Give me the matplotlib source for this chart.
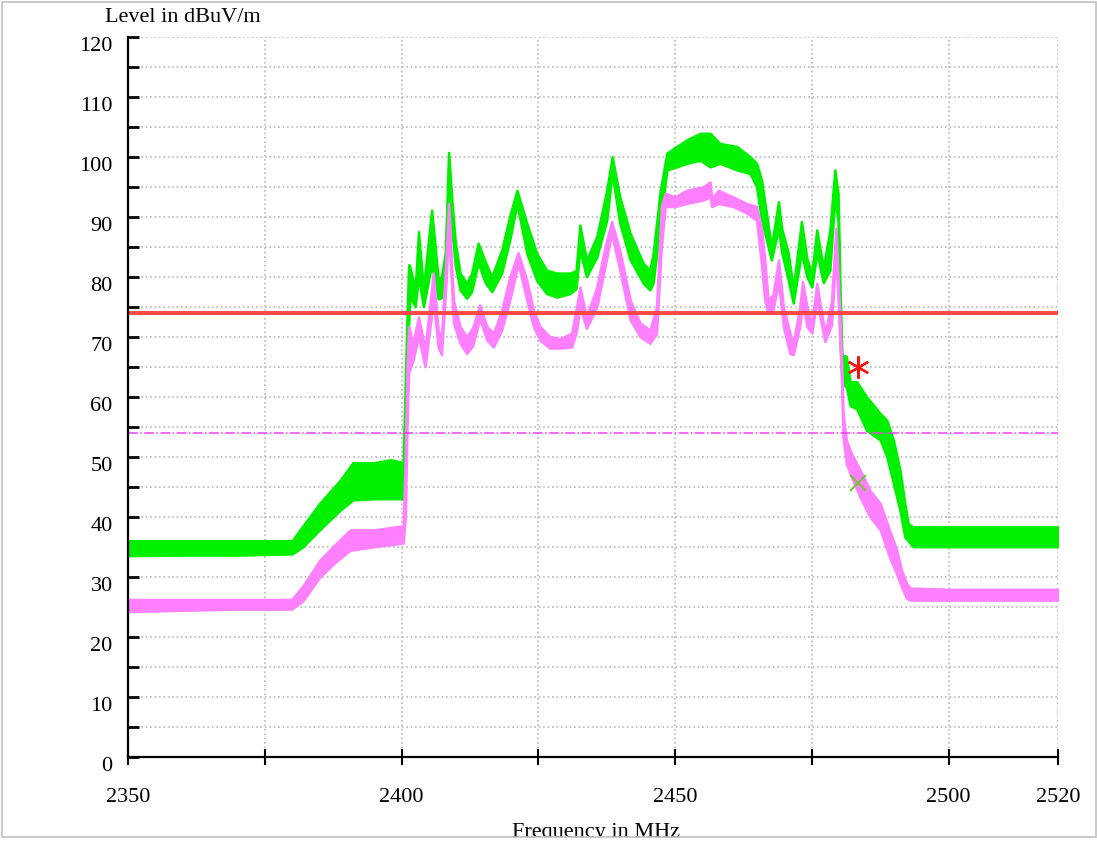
import matplotlib
matplotlib.use("Agg")
import matplotlib.pyplot as plt
from matplotlib.ticker import MultipleLocator, FixedLocator
from matplotlib.patches import Rectangle

# ---------------------------------------------------------------------------
# Data (frequency in MHz, level in dBuV/m).
# Each trace is a noisy band, kept as lower / upper envelope.
# ---------------------------------------------------------------------------
peak_freq = [2350.0, 2360.0, 2370.0, 2380.0, 2382.0, 2385.0, 2388.8, 2391.1,
             2395.0, 2398.0, 2400.3, 2400.9, 2401.3, 2401.5, 2402.5, 2403.1,
             2404.0, 2405.5, 2406.7, 2407.3, 2408.0, 2408.6, 2409.2, 2409.8,
             2410.7, 2411.9, 2412.8, 2414.0, 2415.3, 2416.5, 2418.3, 2419.8,
             2421.1, 2422.9, 2424.7, 2426.5, 2428.4, 2430.8, 2431.9, 2432.6,
             2433.8, 2435.7, 2437.5, 2438.5, 2439.9, 2441.8, 2444.2, 2445.4,
             2446.0, 2447.3, 2448.5, 2450.3, 2452.1, 2454.6, 2456.4, 2458.2,
             2461.3, 2463.7, 2464.9, 2465.8, 2466.7, 2467.6, 2468.9, 2469.5,
             2470.7, 2471.6, 2473.1, 2474.1, 2475.0, 2475.9, 2477.1, 2478.3,
             2479.2, 2479.8, 2480.1, 2480.5, 2481.3, 2482.0, 2483.2, 2485.0,
             2487.5, 2488.7, 2489.9, 2491.1, 2492.0, 2492.6, 2493.5, 2500.0,
             2510.0, 2520.0]
peak_lo = [33.5, 33.6, 33.6, 33.8, 35.0, 37.8, 41.1, 42.8,
           43.0, 43.0, 43.0, 55.0, 72.0, 76.7, 75.0, 80.0,
           75.0, 82.0, 76.3, 76.5, 80.0, 95.0, 88.0, 82.0,
           77.8, 76.4, 77.5, 82.3, 79.0, 77.5, 80.6, 86.2,
           92.2, 83.9, 79.4, 77.2, 76.6, 77.2, 78.0, 84.4,
           80.0, 83.3, 89.4, 97.2, 88.9, 82.8, 78.9, 77.8,
           79.0, 88.9, 97.8, 98.3, 98.9, 99.4, 98.3, 98.9,
           97.8, 97.2, 95.0, 89.4, 86.1, 82.8, 88.0, 84.0,
           79.4, 75.6, 84.0, 80.0, 78.3, 84.0, 79.0, 81.1,
           93.0, 89.4, 70.0, 62.0, 61.7, 58.5, 58.0, 54.4,
           52.8, 50.0, 45.6, 41.1, 36.6, 36.0, 35.0, 35.0,
           35.0, 35.0]
peak_hi = [36.0, 36.0, 36.0, 36.0, 38.5, 42.2, 46.1, 49.0,
           49.0, 49.5, 49.0, 70.0, 82.0, 81.7, 78.0, 87.5,
           78.0, 91.1, 79.7, 80.0, 84.0, 100.7, 92.8, 86.0,
           80.6, 78.9, 80.5, 85.6, 82.5, 80.0, 84.4, 90.2,
           94.4, 88.9, 83.9, 81.1, 80.6, 80.6, 81.0, 88.6,
           82.8, 86.7, 94.4, 100.0, 93.3, 87.2, 82.2, 81.1,
           84.0, 94.4, 100.6, 101.7, 102.8, 103.9, 103.9, 102.2,
           101.7, 100.0, 98.9, 96.1, 90.6, 85.0, 92.5, 88.0,
           83.9, 78.0, 89.2, 83.0, 80.5, 87.8, 81.5, 87.8,
           97.8, 93.9, 80.0, 67.0, 66.7, 62.5, 62.5, 60.0,
           57.2, 56.1, 52.8, 47.8, 42.2, 38.9, 38.3, 38.3,
           38.3, 38.3]

avg_freq = [2350.0, 2360.0, 2370.0, 2379.9, 2382.0, 2385.1, 2388.0, 2390.6,
            2395.0, 2400.3, 2400.7, 2401.0, 2401.3, 2402.1, 2403.1, 2404.3,
            2405.8, 2406.7, 2407.3, 2408.2, 2408.6, 2409.5, 2410.7, 2411.9,
            2413.0, 2414.3, 2415.6, 2416.8, 2418.3, 2419.8, 2421.3, 2422.9,
            2424.1, 2425.3, 2427.1, 2429.0, 2431.1, 2432.0, 2432.6, 2433.8,
            2435.7, 2437.2, 2438.4, 2439.9, 2441.8, 2443.6, 2445.4, 2446.6,
            2447.5, 2448.2, 2450.0, 2452.1, 2455.2, 2456.4, 2456.7, 2457.9,
            2460.6, 2463.1, 2464.9, 2465.8, 2466.4, 2467.0, 2467.9, 2468.9,
            2469.8, 2471.0, 2471.6, 2472.8, 2473.3, 2474.1, 2475.0, 2475.9,
            2477.4, 2478.6, 2479.4, 2480.1, 2480.4, 2480.7, 2481.3, 2482.2,
            2483.8, 2485.6, 2487.5, 2489.3, 2490.5, 2491.4, 2492.3, 2493.0,
            2500.0, 2510.0, 2520.0]
avg_lo = [24.2, 24.4, 24.6, 24.6, 26.0, 30.0, 32.5, 34.4,
          35.0, 35.6, 40.0, 55.0, 64.0, 66.1, 70.0, 65.0,
          76.0, 68.3, 67.0, 80.0, 88.0, 72.3, 68.9, 67.2,
          68.5, 73.0, 69.4, 68.3, 71.1, 76.1, 82.2, 76.1,
          71.7, 69.4, 68.1, 68.1, 68.3, 71.0, 75.0, 71.4,
          75.0, 81.7, 87.2, 81.1, 72.8, 70.0, 68.9, 70.5,
          85.0, 91.7, 91.7, 92.2, 92.8, 93.3, 91.7, 92.2,
          91.7, 90.6, 89.4, 82.0, 76.1, 73.9, 74.5, 79.0,
          71.7, 67.2, 67.0, 71.7, 76.0, 71.7, 70.6, 76.0,
          69.2, 72.0, 84.0, 70.0, 64.0, 53.3, 48.9, 46.7,
          43.3, 40.0, 37.8, 33.0, 30.5, 28.3, 26.4, 26.1,
          26.1, 26.1, 26.1]
avg_hi = [26.2, 26.2, 26.2, 26.2, 28.5, 32.8, 35.5, 37.8,
          37.8, 38.5, 50.0, 65.0, 71.7, 69.0, 73.3, 68.0,
          80.6, 71.0, 70.0, 84.0, 92.2, 76.0, 71.7, 70.0,
          71.5, 75.3, 71.7, 70.6, 74.4, 80.0, 84.0, 79.4,
          74.4, 71.7, 70.0, 69.7, 70.6, 75.0, 78.3, 73.3,
          78.3, 85.0, 89.2, 84.4, 76.1, 72.3, 71.1, 75.0,
          91.7, 93.9, 93.3, 94.4, 95.0, 95.8, 93.0, 94.4,
          93.3, 92.2, 91.7, 88.0, 82.8, 76.1, 77.0, 82.8,
          75.0, 70.6, 69.0, 75.0, 79.2, 75.0, 72.0, 78.9,
          70.5, 76.0, 88.1, 73.9, 67.3, 57.2, 52.8, 50.6,
          47.8, 44.4, 42.2, 37.5, 34.5, 31.1, 28.9, 28.1,
          27.9, 27.9, 27.9]

peak_limit = 74.0
avg_limit = 54.0
marker_freq = 2483.5
marker_peak = 65.0
marker_avg = 45.6

x_major = [2350, 2400, 2450, 2500, 2520]
x_minor = [2375, 2425, 2475]

# ---------------------------------------------------------------------------
plt.rcParams['font.family'] = ['Liberation Serif', 'DejaVu Serif']
fs = 16

W, H = 1097, 841
fig = plt.figure(figsize=(W / 100, H / 100), dpi=100)
ax = fig.add_axes([128 / W, 1 - 756.7 / H, (1058 - 128) / W, (756.7 - 36.7) / H])

green = '#00f000'
violet = '#ff80ff'

ax.fill_between(peak_freq, peak_lo, peak_hi, color=green, lw=1.8, ec=green, zorder=3)
ax.fill_between(avg_freq, avg_lo, avg_hi, color=violet, lw=1.8, ec=violet, zorder=4)

ax.axhline(peak_limit, color='#ff4545', lw=2.8, zorder=5)
ax.axhline(avg_limit, color='#f040f0', lw=1.1, ls='-.', zorder=5)

# peak marker: six-armed asterisk, average marker: cross
ax.plot([marker_freq], [marker_peak], marker=(6, 2, 0), ls='none', ms=16, mew=1.6,
        color='#ff1010', zorder=6)
ax.plot([marker_freq], [marker_avg], marker='x', ls='none', ms=12, mew=1.5,
        color='#77c040', zorder=6)

ax.set_xlim(2350, 2520)
ax.set_ylim(0, 120)

ax.xaxis.set_major_locator(FixedLocator(x_major))
ax.xaxis.set_minor_locator(FixedLocator(x_minor))
ax.yaxis.set_major_locator(MultipleLocator(10))
ax.yaxis.set_minor_locator(MultipleLocator(5))

ax.grid(True, which='both', color='#b8b8b8', ls=':', lw=1.2, zorder=0)
ax.set_axisbelow(True)

for s in ['top', 'right']:
    ax.spines[s].set_visible(False)
for s in ['left', 'bottom']:
    ax.spines[s].set_linewidth(1.6)
    ax.spines[s].set_zorder(7)

ax.tick_params(axis='x', which='both', direction='inout', length=11, width=1.5,
               labelsize=fs, pad=17)
ax.tick_params(axis='y', which='both', direction='in', length=8, width=2,
               labelsize=fs, pad=11)
plt.setp(ax.get_yticklabels(), va='top')

fig.text(105 / W, 1 - 17 / H, 'Level in dBuV/m', fontsize=fs, ha='left', va='center')
fig.text(596 / W, 1 - 833 / H, 'Frequency in MHz', fontsize=fs, ha='center', va='center')

# image frame: clip the bottom strip and draw light grey border
fig.patches.append(Rectangle((0, 0), 1, 4 / H, transform=fig.transFigure,
                             facecolor='white', edgecolor='none', zorder=10))
fig.patches.append(Rectangle((1.5 / W, 4 / H), 1 - 2.5 / W, 1 - 6 / H,
                             transform=fig.transFigure, facecolor='none',
                             edgecolor='#c0c0c0', lw=1.2, zorder=11))

fig.savefig('out.png', dpi=100)
